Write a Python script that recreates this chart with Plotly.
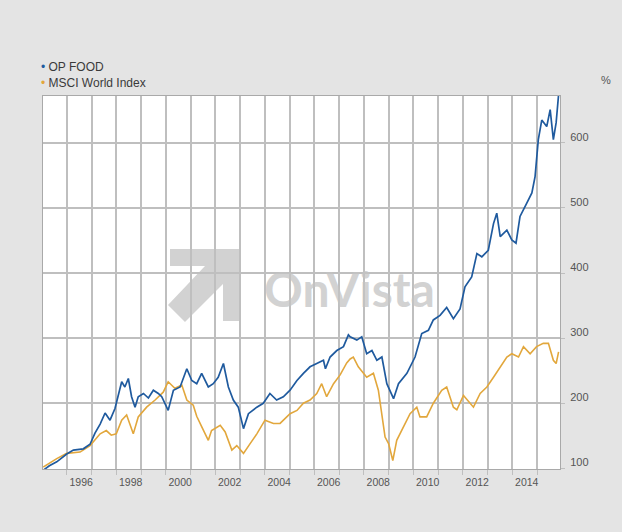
import plotly.graph_objects as go
import pandas as pd

# ---- data ----
# time in decimal years, value in %
op_food_t = [1995.05, 1995.3, 1995.6, 1996.0, 1996.27, 1996.67, 1996.94, 1997.14, 1997.35, 1997.55,
             1997.75, 1997.95, 1998.22, 1998.35, 1998.49, 1998.62, 1998.76, 1998.89, 1999.1, 1999.3,
             1999.5, 1999.7, 1999.84, 2000.1, 2000.31, 2000.58, 2000.85, 2001.05, 2001.25, 2001.45,
             2001.72, 2001.92, 2002.12, 2002.33, 2002.53, 2002.73, 2002.93, 2003.14, 2003.34, 2003.68,
             2003.94, 2004.21, 2004.48, 2004.75, 2005.02, 2005.3, 2005.56, 2005.83, 2006.1, 2006.37,
             2006.45, 2006.64, 2006.91, 2007.18, 2007.38, 2007.45, 2007.72, 2007.92, 2008.12, 2008.33,
             2008.53, 2008.73, 2008.93, 2009.2, 2009.4, 2009.74, 2010.07, 2010.34, 2010.61, 2010.81,
             2011.08, 2011.35, 2011.62, 2011.89, 2012.09, 2012.36, 2012.57, 2012.77, 2013.03, 2013.24,
             2013.37, 2013.51, 2013.78, 2013.98, 2014.15, 2014.31, 2014.58, 2014.79, 2014.92, 2015.05,
             2015.19, 2015.39, 2015.53, 2015.66, 2015.77, 2015.87]
op_food_v = [97, 104, 110, 122, 128, 130, 137, 154, 168, 185,
             174, 192, 233, 225, 238, 210, 194, 210, 215, 208,
             220, 215, 210, 189, 220, 225, 253, 235, 230, 246,
             225, 230, 240, 261, 225, 205, 194, 161, 184, 194,
             200, 215, 205, 210, 220, 235, 246, 256, 261, 266,
             253, 271, 281, 287, 305, 302, 297, 302, 276, 281,
             266, 271, 230, 207, 230, 246, 271, 307, 312, 328,
             335, 347, 330, 345, 379, 394, 430, 425, 435, 476,
             492, 456, 466, 451, 446, 487, 507, 523, 548, 605,
             635, 625, 651, 605, 631, 674]

msci_t = [1995.05, 1995.3, 1995.6, 1996.0, 1996.54, 1996.94, 1997.35, 1997.6, 1997.8, 1998.0,
          1998.22, 1998.42, 1998.69, 1998.89, 1999.23, 1999.57, 1999.9, 2000.1, 2000.37, 2000.65,
          2000.85, 2001.11, 2001.25, 2001.45, 2001.72, 2001.85, 2002.2, 2002.4, 2002.67, 2002.87,
          2003.14, 2003.41, 2003.68, 2004.01, 2004.35, 2004.62, 2005.02, 2005.3, 2005.56, 2005.83,
          2006.1, 2006.3, 2006.5, 2006.78, 2007.05, 2007.31, 2007.45, 2007.58, 2007.78, 2008.12,
          2008.39, 2008.59, 2008.73, 2008.86, 2009.0, 2009.17, 2009.33, 2009.6, 2009.87, 2010.14,
          2010.27, 2010.54, 2010.81, 2011.15, 2011.35, 2011.62, 2011.76, 2012.03, 2012.43, 2012.7,
          2012.97, 2013.24, 2013.51, 2013.78, 2013.98, 2014.25, 2014.45, 2014.72, 2014.98, 2015.25,
          2015.46, 2015.66, 2015.77, 2015.87]
msci_v = [102, 108, 115, 123, 125, 135, 153, 158, 151, 153,
          174, 182, 153, 179, 194, 205, 217, 233, 223, 228,
          205, 197, 180, 164, 143, 158, 166, 156, 128, 135,
          123, 138, 153, 174, 169, 169, 184, 189, 200, 205,
          215, 230, 210, 230, 244, 262, 268, 271, 256, 240,
          246, 220, 179, 148, 138, 112, 143, 164, 184, 194,
          179, 179, 200, 220, 225, 194, 190, 212, 194, 215,
          225, 240, 256, 271, 276, 271, 287, 276, 287, 292,
          292, 266, 261, 279]

label_years = [1996, 1998, 2000, 2002, 2004, 2006, 2008, 2010, 2012, 2014]
series_names = ["OP FOOD", "MSCI World Index"]
series_colors = ["#1f5a9e", "#e2a73c"]


def to_date(t):
    y = int(t)
    start = pd.Timestamp(year=y, month=1, day=1)
    days = (pd.Timestamp(year=y + 1, month=1, day=1) - start).days
    return (start + pd.Timedelta(days=(t - y) * days)).strftime("%Y-%m-%d")


# ---- geometry helpers (pixel -> paper) ----
W, H = 622, 532
ML, MR, MT, MB = 43, 62, 96, 63
PW, PH = W - ML - MR, H - MT - MB


def px(x):
    return (x - ML) / PW


def py(y):
    return (H - MB - y) / PH


fig = go.Figure()
fig.add_trace(go.Scatter(x=[to_date(t) for t in msci_t], y=msci_v, mode="lines",
                         name=series_names[1], line=dict(color=series_colors[1], width=1.6),
                         showlegend=False))
fig.add_trace(go.Scatter(x=[to_date(t) for t in op_food_t], y=op_food_v, mode="lines",
                         name=series_names[0], line=dict(color=series_colors[0], width=1.7),
                         showlegend=False))

grid = "#bfbfbf"
tickfont = dict(family="Liberation Sans, Arial, sans-serif", size=10.5, color="#555555")

fig.update_layout(
    width=W, height=H,
    margin=dict(l=ML, r=MR, t=MT, b=MB),
    paper_bgcolor="#e4e4e4",
    plot_bgcolor="#ffffff",
    xaxis=dict(
        type="date",
        range=["1995-01-16", "2015-12-05"],
        tickmode="array",
        tickvals=[f"{y}-08-01" for y in label_years],
        ticktext=[str(y) for y in label_years],
        showgrid=False, ticks="", ticklabelstandoff=3,
        tickfont=tickfont,
        minor=dict(tickmode="linear", tick0="1996-01-01", dtick="M12", showgrid=True,
                   gridcolor=grid, gridwidth=1.5, ticks="outside", ticklen=5, tickcolor=grid),
        showline=True, linecolor="#a9a9a9", linewidth=1, mirror=True, zeroline=False,
    ),
    yaxis=dict(
        side="right",
        range=[99, 672],
        tickmode="linear", tick0=100, dtick=100,
        showgrid=True, gridcolor=grid, gridwidth=1.5,
        ticks="outside", ticklen=4, tickcolor=grid,
        ticklabelshift=-6, ticklabelstandoff=3,
        tickfont=dict(family="Liberation Sans, Arial, sans-serif", size=11, color="#555555"),
        showline=True, linecolor="#a9a9a9", linewidth=1, mirror=True, zeroline=False,
    ),
)

# watermark logo (arrow) below the gridlines
pts = [(170, 249), (241, 249), (241, 321), (223, 321), (223, 284), (185, 322),
       (168, 305), (205, 266), (170, 266)]
path = "M " + " L ".join(f"{px(a):.5f},{py(b):.5f}" for a, b in pts) + " Z"
fig.add_shape(type="path", path=path, xref="paper", yref="paper",
              fillcolor="#d2d2d2", line=dict(width=0), layer="below")

fig.add_annotation(text="<b>OnVista</b>", xref="paper", yref="paper",
                   x=px(349), y=py(288), showarrow=False, opacity=0.75,
                   font=dict(family="Lato, sans-serif", size=48, color="#c4c4c4"))

# legend as one two-line text block with coloured bullets
leg_text = "<br>".join(f"<span style='color:{c}'>•</span> {n}"
                       for n, c in zip(series_names, series_colors))
fig.add_annotation(text=leg_text, xref="paper", yref="paper", x=px(39), y=py(74.5),
                   xanchor="left", yanchor="middle", align="left", showarrow=False,
                   font=dict(family="Liberation Sans, Arial, sans-serif", size=12, color="#3a3a3a"))

fig.add_annotation(text="%", xref="paper", yref="paper", x=px(606), y=py(80),
                   xanchor="center", yanchor="middle", showarrow=False,
                   font=dict(family="Liberation Sans, Arial, sans-serif", size=11, color="#555555"))

fig.write_html("out.html", config={"displayModeBar": False},
               post_script="document.body.style.margin='0';")
